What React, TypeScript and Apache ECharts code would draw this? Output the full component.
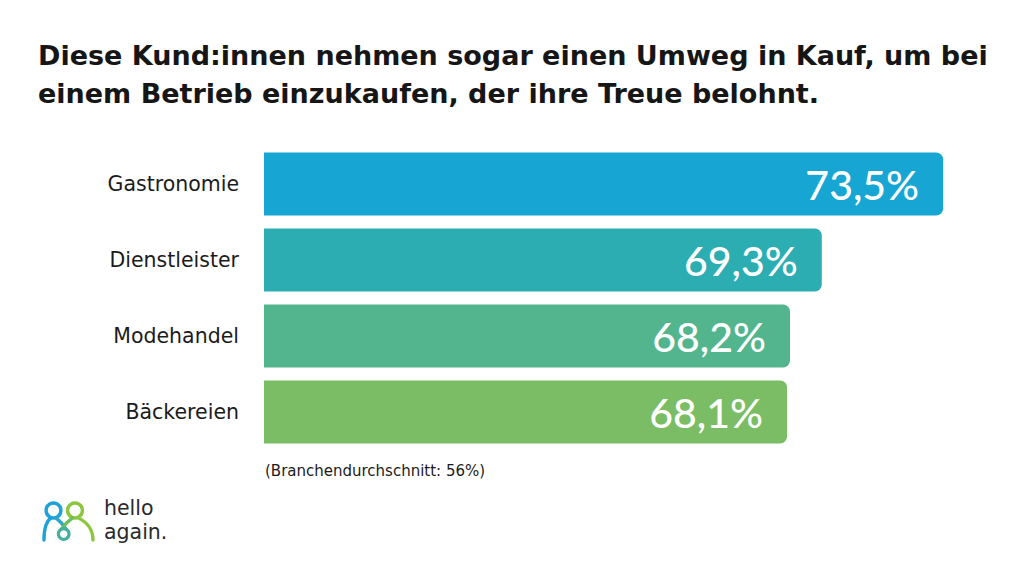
import React, { useEffect, useRef } from "react";
import * as echarts from "echarts";

const categories = ["Gastronomie", "Dienstleister", "Modehandel", "Bäckereien"];
const values = [73.5, 69.3, 68.2, 68.1];
const barColors = ["#17a6d4", "#2cadb1", "#52b58e", "#7abd64"];
const titleLines = [
  "Diese Kund:innen nehmen sogar einen Umweg in Kauf, um bei",
  "einem Betrieb einzukaufen, der ihre Treue belohnt.",
];
const footnote = "(Branchendurchschnitt: 56%)";
const brandLines = ["hello", "again."];

const FONT = "'DejaVu Sans', sans-serif";
const NUMFONT = "Lato, sans-serif";

export default function App() {
  const ref = useRef<HTMLDivElement>(null);
  useEffect(() => {
    if (!ref.current) return;
    const chart = echarts.init(ref.current, undefined, { renderer: "svg" });
    const stroke = (c: string) => ({ fill: null, stroke: c, lineWidth: 3.4, lineCap: "round" });
    chart.setOption({
      animation: false,
      backgroundColor: "#ffffff",
      grid: { left: 264, top: 146, width: 722.5, height: 304, containLabel: false },
      xAxis: {
        type: "value",
        min: 50,
        max: 75,
        show: false,
      },
      yAxis: {
        type: "category",
        inverse: true,
        data: categories,
        axisLine: { show: false },
        axisTick: { show: false },
        splitLine: { show: false },
        axisLabel: {
          margin: 25,
          fontSize: 20.5,
          color: "#1b1b1b",
          fontFamily: FONT,
        },
      },
      series: [
        {
          type: "bar",
          barWidth: 63,
          data: values.map((v, i) => ({
            value: v,
            itemStyle: { color: barColors[i], borderRadius: [0, 7, 7, 0] },
          })),
          label: {
            show: true,
            position: "insideRight",
            distance: 24,
            color: "#ffffff",
            fontSize: 41,
            fontWeight: 500,
            fontFamily: NUMFONT,
            formatter: (p: any) => p.value.toFixed(1).replace(".", ",") + "%",
          },
        },
      ],
      graphic: [
        {
          type: "text",
          left: 38,
          top: 36,
          style: {
            text: titleLines.join("\n"),
            fontSize: 27,
            fontWeight: "bold",
            lineHeight: 38,
            fill: "#161616",
            fontFamily: FONT,
          },
        },
        {
          type: "text",
          left: 265,
          top: 463,
          style: {
            text: footnote,
            fontSize: 15,
            fill: "#1b1b1b",
            fontFamily: FONT,
          },
        },
        { type: "circle", shape: { cx: 53.5, cy: 510.5, r: 7.4 }, style: stroke("#1ea2d9") },
        { type: "circle", shape: { cx: 75, cy: 510.5, r: 7.4 }, style: stroke("#8cc63f") },
        {
          type: "bezierCurve",
          shape: { x1: 51, y1: 517.8, cpx1: 45, cpy1: 522, cpx2: 44, cpy2: 532, x2: 44, y2: 540 },
          style: stroke("#1ea2d9"),
        },
        {
          type: "bezierCurve",
          shape: { x1: 56, y1: 517.8, cpx1: 60, cpy1: 521, cpx2: 63, cpy2: 524, x2: 66, y2: 529 },
          style: stroke("#2ea6c8"),
        },
        {
          type: "bezierCurve",
          shape: { x1: 72.5, y1: 517.8, cpx1: 68, cpy1: 521, cpx2: 65, cpy2: 524, x2: 61.5, y2: 529 },
          style: stroke("#6cbd5c"),
        },
        {
          type: "bezierCurve",
          shape: { x1: 78, y1: 517.8, cpx1: 87, cpy1: 522, cpx2: 93, cpy2: 530, x2: 93, y2: 540 },
          style: stroke("#8cc63f"),
        },
        {
          type: "circle",
          shape: { cx: 63.7, cy: 534, r: 5.3 },
          style: { fill: null, stroke: "#45b0a0", lineWidth: 3.2 },
        },
        {
          type: "text",
          left: 104,
          top: 497,
          style: { text: brandLines[0], fontSize: 20.5, fill: "#2a2a2a", fontFamily: FONT },
        },
        {
          type: "text",
          left: 104,
          top: 521,
          style: { text: brandLines[1], fontSize: 20.5, fill: "#2a2a2a", fontFamily: FONT },
        },
      ],
    });
    return () => chart.dispose();
  }, []);
  return (
    <div
      ref={ref}
      style={{ position: "fixed", left: 0, top: 0, width: 1024, height: 576 }}
    />
  );
}
